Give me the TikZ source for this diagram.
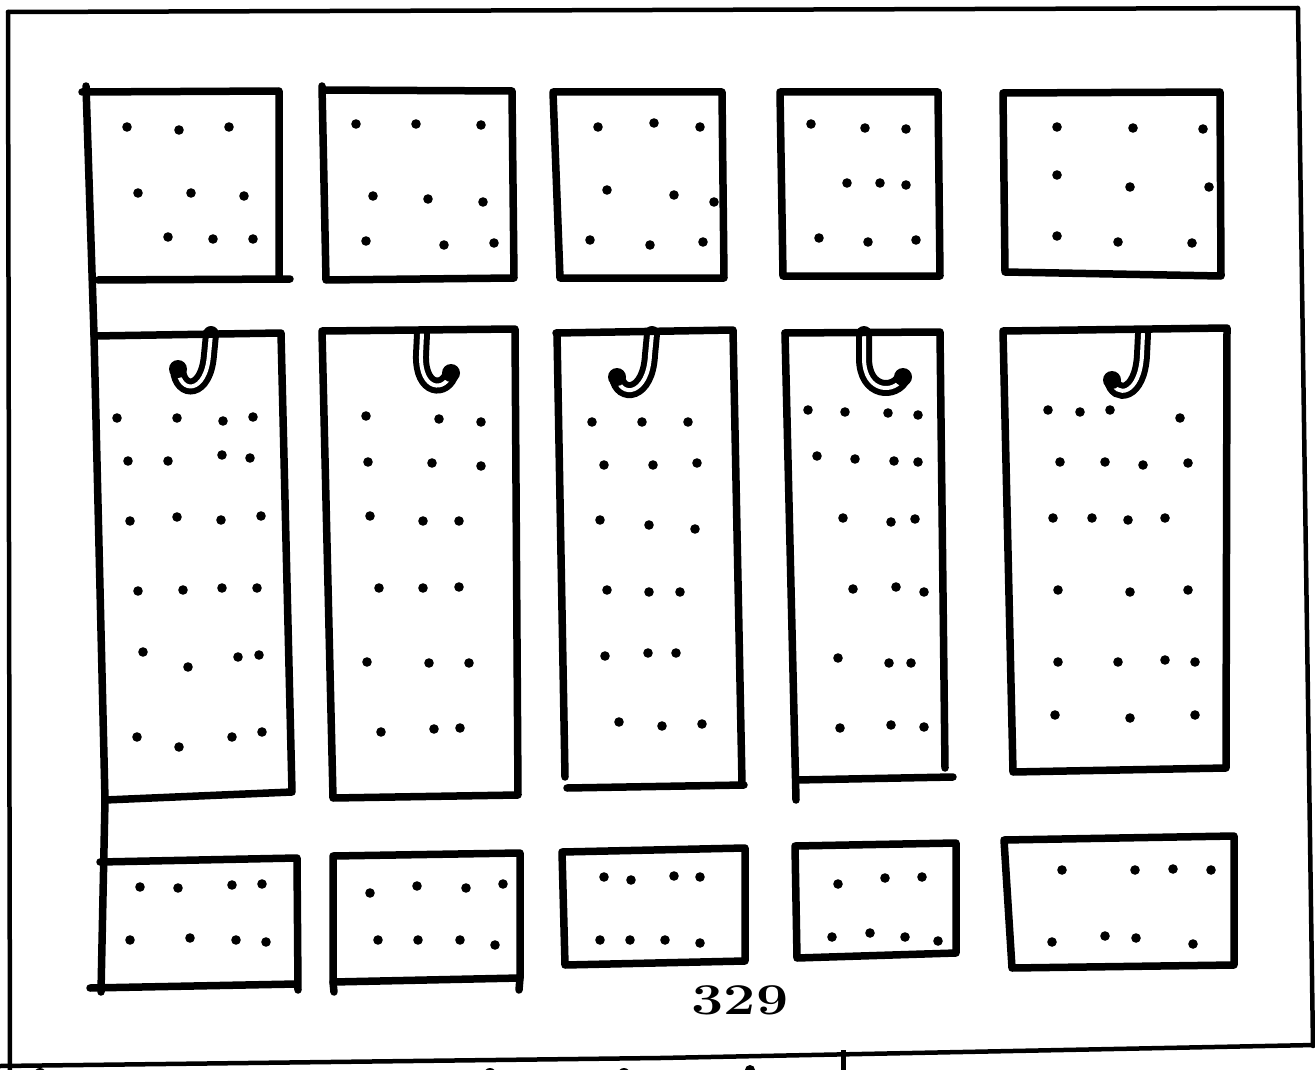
\documentclass[tikz,border=0pt]{standalone}
\begin{document}
\begin{tikzpicture}[x=1pt,y=-1pt,
  boxline/.style={line width=7.5pt, line join=round, line cap=round},
  frameline/.style={line width=4.5pt, line join=round, line cap=round},
  hookline/.style={draw=black, line width=6pt, double=white, double distance=4pt, line cap=round},
  dotmark/.style={fill=black}]
\useasboundingbox (0,0) rectangle (1315,1070);

% outer frame
\draw[frameline] (8,12) -- (1298,8) -- (1313,1046);
\draw[frameline] (8,12) -- (10,1072);
\draw[frameline] (0,1066) -- (660,1058) -- (1315,1045);
% cut-off marks below the frame
\fill (40,1074) circle (6pt);
\fill (490,1074) circle (6pt);
\fill (624,1074) circle (6pt);
\fill (750,1070) circle (5pt);
\draw[line width=5pt] (843,1050) -- (843,1072);

% hooks (drawn first, box tops cover their ends)
\draw[hookline] (211,334) -- (209,355) .. controls (206,394) and (180,394) .. (178,370);
\fill (178,369) circle (9pt);
\draw[hookline] (422,334) -- (421,355) .. controls (420,392) and (446,392) .. (451,373);
\fill (451,373) circle (9pt);
\draw[hookline] (652,334) -- (650,355) .. controls (648,396) and (620,398) .. (617,377);
\fill (617,377) circle (9pt);
\draw[hookline] (864,334) -- (864,358) .. controls (864,394) and (896,394) .. (903,377);
\fill (903,377) circle (9pt);
\draw[hookline] (1143,334) -- (1142,355) .. controls (1140,396) and (1115,398) .. (1112,380);
\fill (1112,380) circle (9pt);

% column 1 long left line
\draw[boxline] (86,86) -- (94,335) -- (105,800) -- (101,992);

% row 1
\draw[boxline] (82,92) -- (279,91) -- (279,279);
\draw[boxline] (98,280) -- (290,279);
\draw[boxline] (322,86) -- (326,280) -- (514,278) -- (512,91) -- (322,90);
\draw[boxline] (553,92) -- (722,92) -- (724,278) -- (560,278) -- cycle;
\draw[boxline] (780,92) -- (938,92) -- (940,276) -- (783,276) -- cycle;
\draw[boxline] (1003,93) -- (1220,92) -- (1221,276) -- (1005,272) -- cycle;

% row 2
\draw[boxline] (94,336) -- (281,333) -- (292,792) -- (105,800);
\draw[boxline] (322,331) -- (515,329) -- (518,795) -- (333,798) -- cycle;
\draw[boxline] (556,333) -- (733,330) -- (742,783);
\draw[boxline] (557,333) -- (565,777);
\draw[boxline] (567,788) -- (744,785);
\draw[boxline] (785,333) -- (940,332) -- (945,768);
\draw[boxline] (785,333) -- (796,800);
\draw[boxline] (796,780) -- (953,777);
\draw[boxline] (1003,331) -- (1227,328) -- (1226,768) -- (1013,772) -- cycle;

% row 3
\draw[boxline] (100,862) -- (297,858) -- (298,990);
\draw[boxline] (90,988) -- (297,984);
\draw[boxline] (333,856) -- (520,853) -- (520,978) -- (333,982) -- cycle;
\draw[boxline] (333,982) -- (334,992);
\draw[boxline] (520,978) -- (519,990);
\draw[boxline] (562,852) -- (745,848) -- (745,961) -- (565,965) -- cycle;
\draw[boxline] (795,846) -- (956,843) -- (956,953) -- (797,958) -- cycle;
\draw[boxline] (1004,840) -- (1234,836) -- (1234,965) -- (1012,968) -- cycle;

% dots
\foreach \p in {(127,127),(179,130),(229,127),(138,193),(191,193),(244,196),(168,237),(213,239),(253,239),
  (356,124),(416,124),(481,125),(373,196),(428,199),(483,202),(366,241),(444,245),(494,243),
  (598,127),(654,123),(700,127),(607,190),(674,195),(714,202),(590,240),(650,245),(703,242),
  (811,124),(865,128),(906,129),(847,183),(880,183),(906,185),(819,238),(868,242),(916,240),
  (1057,127),(1133,128),(1203,129),(1057,175),(1130,187),(1209,187),(1057,236),(1118,242),(1192,243)}
  \fill[dotmark] \p circle (4.8pt);

\foreach \p in {(117,418),(177,418),(223,421),(253,417),(128,461),(168,461),(222,455),(250,458),
  (130,521),(177,517),(221,520),(261,516),(138,591),(183,590),(222,588),(257,588),
  (143,652),(188,667),(238,657),(259,655),(137,737),(179,747),(232,737),(262,732),
  (366,416),(439,419),(481,422),(368,462),(432,463),(481,466),(370,516),(423,521),(459,521),
  (379,588),(423,588),(459,587),(367,662),(429,663),(469,663),(381,732),(434,729),(460,728),
  (592,422),(642,422),(688,422),(604,465),(653,465),(697,463),(600,520),(649,525),(695,529),
  (607,590),(649,592),(680,592),(605,656),(648,653),(676,653),(619,722),(662,726),(702,724),
  (808,410),(845,412),(888,413),(918,415),(817,456),(855,459),(894,461),(918,462),
  (843,518),(891,522),(915,519),(853,589),(896,587),(924,592),(838,658),(889,663),(911,663),
  (840,728),(891,725),(924,727),
  (1048,410),(1080,412),(1110,410),(1180,418),(1060,462),(1105,462),(1143,465),(1188,463),
  (1053,518),(1092,518),(1128,520),(1165,518),(1058,590),(1130,592),(1188,590),
  (1058,662),(1118,662),(1165,660),(1195,662),(1055,715),(1130,718),(1195,715)}
  \fill[dotmark] \p circle (4.8pt);

\foreach \p in {(140,887),(178,888),(232,885),(262,884),(130,940),(190,938),(236,940),(266,942),
  (370,893),(417,886),(466,888),(503,884),(378,940),(418,940),(460,940),(495,945),
  (604,877),(631,880),(674,876),(700,877),(600,940),(630,940),(665,940),(700,943),
  (838,884),(885,878),(922,877),(832,937),(870,933),(905,937),(938,941),
  (1062,870),(1135,870),(1173,869),(1211,870),(1052,942),(1105,936),(1136,938),(1193,944)}
  \fill[dotmark] \p circle (4.8pt);

% page number
\node[font=\fontsize{44}{44}\selectfont\bfseries, inner sep=0pt] (pagenum) at (740,1000) {\scalebox{1.3}[1]{329}};
\end{tikzpicture}
\end{document}
